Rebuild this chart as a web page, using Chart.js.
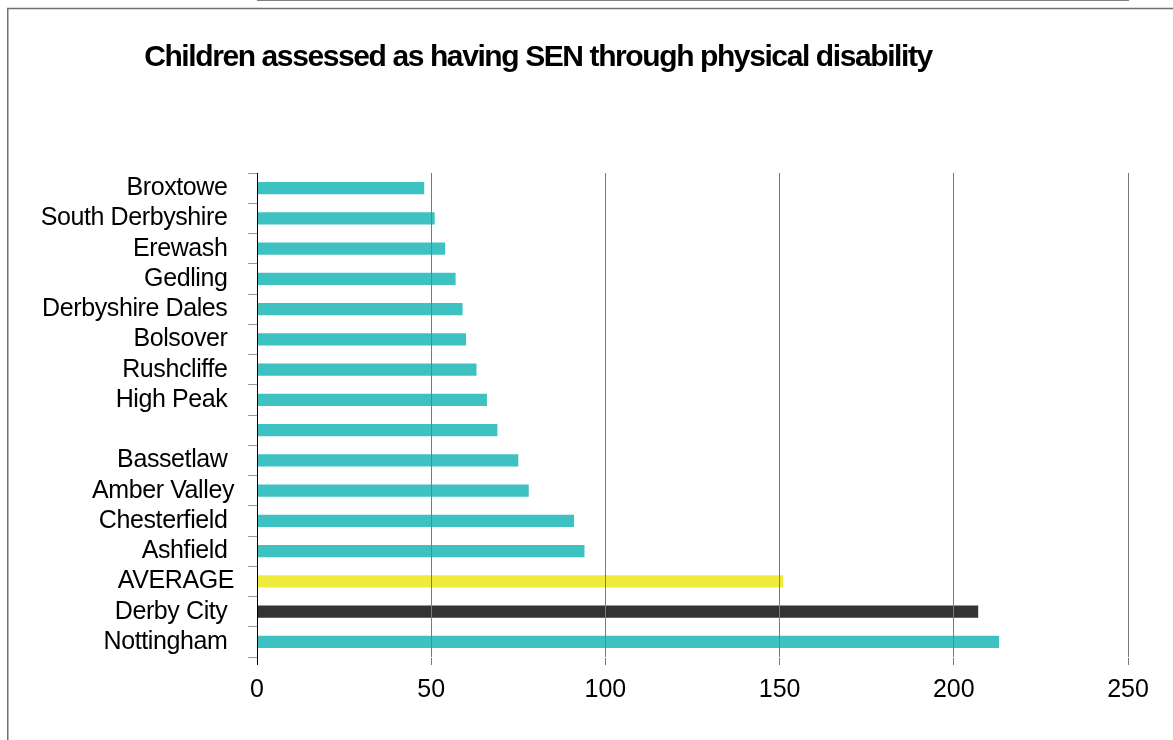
<!DOCTYPE html>
<html>
<head>
<meta charset="utf-8">
<script src="https://cdn.jsdelivr.net/npm/chart.js@4.4.1/dist/chart.umd.min.js"></script>
<style>
  html, body { margin: 0; padding: 0; background: #ffffff; overflow: hidden; }
  #wrap { width: 1173px; height: 740px; position: relative; }
</style>
</head>
<body>
<div id="wrap"><canvas id="chart" width="1173" height="740"></canvas></div>
<script>
// Chart text and values
const chartTitle = 'Children assessed as having SEN through physical disability';
const districts = [
  'Broxtowe ', 'South Derbyshire ', 'Erewash ', 'Gedling ', 'Derbyshire Dales ',
  'Bolsover ', 'Rushcliffe ', 'High Peak ', '', 'Bassetlaw ', 'Amber Valley',
  'Chesterfield ', 'Ashfield ', 'AVERAGE', 'Derby City ', 'Nottingham '
];
const childrenCounts = [48, 51, 54, 57, 59, 60, 63, 66, 69, 75, 78, 91, 94, 151, 207, 213];
const axisMin = 0;
const axisMax = 250;
const axisStep = 50;

// Colours
const TEAL = '#3ec1c1';
const YELLOW = '#eeeb3c';
const DARK = '#333333';

function barColour(ctx) {
  const name = districts[ctx.dataIndex].trim();
  if (name === 'AVERAGE') return YELLOW;
  if (name === 'Derby City') return DARK;
  return TEAL;
}

Chart.defaults.font.family = '"Liberation Sans", Arial, sans-serif';
Chart.defaults.color = '#000000';

// Slightly tight letter spacing for the district names
const spacingPlugin = {
  id: 'spacing',
  beforeDraw(chart) { chart.ctx.letterSpacing = '-0.4px'; },
  afterDatasetsDraw(chart) { chart.ctx.letterSpacing = '0px'; }
};

// Bold heading and the grey frame along the top and left edges
const headingPlugin = {
  id: 'heading',
  afterDraw(chart) {
    const ctx = chart.ctx;
    ctx.save();
    ctx.strokeStyle = '#707070';
    ctx.lineWidth = 1.5;
    ctx.beginPath();
    ctx.moveTo(7.75, chart.height);
    ctx.lineTo(7.75, 8.5);
    ctx.lineTo(chart.width, 8.5);
    ctx.stroke();

    ctx.font = 'bold 30px "Liberation Sans", Arial, sans-serif';
    ctx.letterSpacing = '-1.4px';
    ctx.fillStyle = '#000000';
    ctx.textAlign = 'center';
    ctx.textBaseline = 'alphabetic';
    ctx.fillText(chartTitle, 538, 66);
    ctx.restore();
  }
};

new Chart(document.getElementById('chart'), {
  type: 'bar',
  data: {
    labels: districts,
    datasets: [{
      data: childrenCounts,
      backgroundColor: barColour,
      borderWidth: 0,
      barPercentage: 0.5,
      categoryPercentage: 0.8
    }]
  },
  options: {
    indexAxis: 'y',
    responsive: false,
    animation: false,
    events: [],
    layout: { padding: { left: 0, right: 45, top: 173, bottom: 0 } },
    plugins: {
      legend: { display: false },
      tooltip: { enabled: false },
      title: { display: false }
    },
    scales: {
      x: {
        min: axisMin,
        max: axisMax,
        afterFit(scale) { scale.height = 83; },
        ticks: {
          stepSize: axisStep,
          font: { size: 25 },
          color: '#000000',
          padding: 10,
          z: 2
        },
        grid: {
          color: (ctx) => (ctx.tick && ctx.tick.value === 0 ? '#000000' : '#7a7a7a'),
          lineWidth: 1,
          tickLength: 8,
          z: 1
        },
        border: { display: true, color: '#000000', width: 1 }
      },
      y: {
        afterFit(scale) { scale.width = 257; },
        ticks: {
          font: { size: 25 },
          color: '#000000',
          padding: 14,
          autoSkip: false
        },
        grid: {
          offset: true,
          drawOnChartArea: false,
          color: '#9a9a9a',
          tickLength: 9
        },
        border: { display: true, color: '#000000', width: 1 }
      }
    }
  },
  plugins: [spacingPlugin, headingPlugin]
});
</script>
</body>
</html>
